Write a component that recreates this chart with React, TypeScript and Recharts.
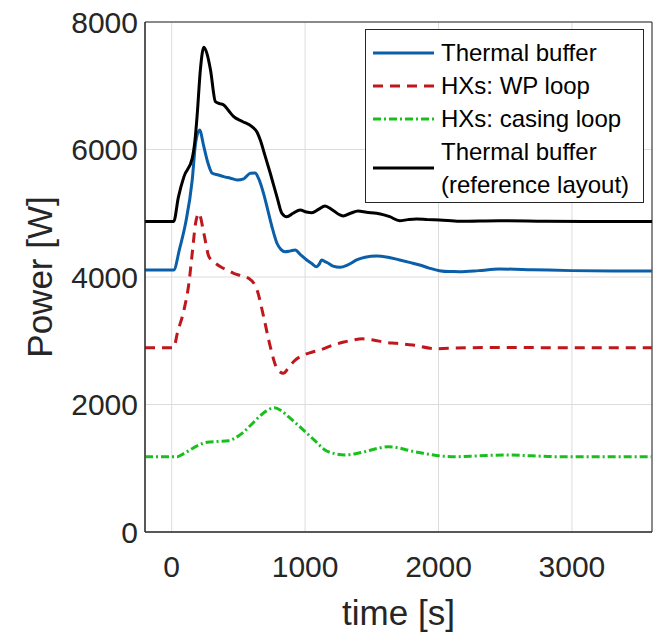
import { LineChart, Line, XAxis, YAxis, CartesianGrid, Legend, Label, ReferenceArea } from 'recharts'

const FONT = '"Liberation Sans", Arial, sans-serif'
const AXIS = '#262626'

// time axis ticks and power ticks
const timeTicks = [0, 1000, 2000, 3000]
const powerTicks = [0, 2000, 4000, 6000, 8000]

// Thermal buffer
const bufferTime = [-200, 0, 15, 60, 104, 154, 179, 209, 241, 270, 304, 350, 390, 440, 490, 540, 590, 625, 651, 690, 714, 750, 789, 820, 851, 890, 925, 965, 1012, 1050, 1087, 1105, 1124, 1150, 1174, 1210, 1261, 1320, 1386, 1450, 1535, 1620, 1709, 1790, 1858, 1930, 2007, 2080, 2157, 2300, 2455, 2700, 3000, 3300, 3600]
const bufferPower = [4110, 4110, 4110, 4450, 4842, 5522, 6097, 6306, 6044, 5800, 5627, 5600, 5574, 5550, 5522, 5540, 5627, 5630, 5548, 5300, 5103, 4800, 4529, 4430, 4397, 4410, 4424, 4350, 4267, 4210, 4162, 4200, 4267, 4240, 4215, 4170, 4152, 4190, 4267, 4310, 4329, 4310, 4267, 4225, 4188, 4140, 4099, 4085, 4084, 4100, 4125, 4115, 4100, 4095, 4095]

// HXs: WP loop
const wpTime = [-200, 0, 15, 42, 92, 129, 154, 179, 204, 241, 279, 320, 366, 415, 465, 520, 577, 640, 689, 739, 789, 838, 870, 913, 987, 1050, 1112, 1211, 1290, 1361, 1430, 1510, 1600, 1684, 1808, 1983, 2132, 2455, 3000, 3600]
const wpPower = [2890, 2890, 2890, 3117, 3482, 3901, 4372, 4842, 4999, 4685, 4319, 4230, 4162, 4110, 4058, 4020, 3980, 3796, 3377, 2907, 2568, 2489, 2560, 2671, 2776, 2820, 2855, 2933, 2980, 3012, 3030, 3012, 2975, 2960, 2933, 2876, 2885, 2895, 2890, 2890]

// HXs: casing loop
const casingTime = [-200, 0, 42, 90, 129, 200, 266, 350, 428, 480, 527, 590, 651, 710, 771, 820, 875, 940, 1000, 1075, 1149, 1220, 1299, 1370, 1448, 1540, 1622, 1700, 1784, 1900, 1995, 2132, 2300, 2505, 2700, 2878, 3200, 3600]
const casingPower = [1182, 1182, 1182, 1230, 1276, 1360, 1407, 1420, 1433, 1480, 1548, 1670, 1799, 1900, 1950, 1905, 1809, 1690, 1574, 1430, 1286, 1230, 1208, 1225, 1260, 1310, 1338, 1320, 1276, 1230, 1197, 1182, 1195, 1208, 1195, 1182, 1180, 1180]

// Thermal buffer (reference layout)
const refTime = [-200, 0, 15, 50, 92, 154, 175, 192, 215, 241, 265, 291, 328, 360, 390, 430, 465, 530, 602, 640, 664, 700, 739, 790, 826, 863, 910, 963, 1010, 1050, 1100, 1149, 1200, 1261, 1286, 1340, 1398, 1460, 1535, 1590, 1634, 1709, 1770, 1834, 1920, 2007, 2157, 2455, 2800, 3200, 3600]
const refPower = [4870, 4870, 4870, 5250, 5574, 5862, 6150, 6568, 7250, 7603, 7500, 7247, 6750, 6720, 6698, 6600, 6515, 6440, 6358, 6270, 6149, 5900, 5627, 5250, 4999, 4946, 5000, 5051, 5020, 5009, 5060, 5114, 5060, 4973, 4957, 5000, 5035, 5015, 4999, 4975, 4946, 4883, 4900, 4910, 4900, 4894, 4874, 4883, 4875, 4870, 4870]

const toPoints = (t: number[], p: number[]) => t.map((x, i) => ({ t: x, p: p[i] }))

const series = [
  { name: 'Thermal buffer', data: toPoints(bufferTime, bufferPower), color: '#0b5ea8', dash: undefined },
  { name: 'HXs: WP loop', data: toPoints(wpTime, wpPower), color: '#c0171c', dash: '10 7' },
  { name: 'HXs: casing loop', data: toPoints(casingTime, casingPower), color: '#19c01d', dash: '8 3 2 3' },
  { name: 'Thermal buffer\n(reference layout)', data: toPoints(refTime, refPower), color: '#000000', dash: undefined },
]

function LegendBox() {
  return (
    <div
      style={{
        border: `1px solid ${AXIS}`,
        background: '#fff',
        padding: '6px 0 1px 0',
        fontFamily: FONT,
        fontSize: 24,
        color: '#000',
        lineHeight: '33px',
        boxSizing: 'border-box',
        width: 279,
      }}
    >
      {series.map((s) => (
        <div key={s.name} style={{ display: 'flex', alignItems: 'center' }}>
          <svg width={75} height={8} style={{ flex: 'none' }}>
            <line x1={7} y1={4} x2={68} y2={4} stroke={s.color} strokeWidth={3} strokeDasharray={s.dash} />
          </svg>
          <div style={{ whiteSpace: 'pre' }}>{s.name}</div>
        </div>
      ))}
    </div>
  )
}

function PowerLabel(props: any) {
  const vb = props.viewBox || { x: 0, y: 0, height: 0 }
  const x = vb.x + 52
  const y = 277
  return (
    <text x={x} y={y} transform={`rotate(-90 ${x} ${y})`} textAnchor="middle" fontSize={35} fontFamily={FONT} fill={AXIS}>
      Power [W]
    </text>
  )
}

export default function App() {
  return (
    <div style={{ position: 'absolute', left: 0, top: 0, background: '#fff' }}>
      <LineChart width={658} height={633} margin={{ top: 22, right: 6, bottom: 0, left: 0 }}>
        <CartesianGrid stroke="#dcdcdc" strokeWidth={1} />
        <XAxis
          type="number"
          dataKey="t"
          domain={[-200, 3600]}
          ticks={timeTicks}
          allowDataOverflow
          height={101}
          tickLine={false}
          tickSize={6}
          tickMargin={18}
          axisLine={{ stroke: AXIS }}
          tick={{ fill: AXIS, fontSize: 30, fontFamily: FONT }}
        >
          <Label value="time [s]" position="insideBottom" offset={8} fontSize={35} fontFamily={FONT} fill={AXIS} />
        </XAxis>
        <YAxis
          type="number"
          domain={[0, 8000]}
          ticks={powerTicks}
          width={145}
          tickLine={false}
          tickSize={6}
          tickMargin={1}
          axisLine={{ stroke: AXIS }}
          tick={{ fill: AXIS, fontSize: 30, fontFamily: FONT }}
        >
          <Label content={PowerLabel} />
        </YAxis>
        <ReferenceArea x1={-200} x2={3600} y1={0} y2={8000} fill="none" stroke={AXIS} strokeWidth={1} />
        {series.map((s) => (
          <Line
            key={s.name}
            data={s.data}
            dataKey="p"
            name={s.name}
            type="monotone"
            stroke={s.color}
            strokeWidth={3}
            strokeDasharray={s.dash}
            dot={false}
            activeDot={false}
            isAnimationActive={false}
          />
        ))}
        <Legend
          layout="vertical"
          align="center"
          verticalAlign="middle"
          content={() => <LegendBox />}
          wrapperStyle={{ left: 365, top: 29, width: 279, height: 'auto' }}
        />
      </LineChart>
    </div>
  )
}
